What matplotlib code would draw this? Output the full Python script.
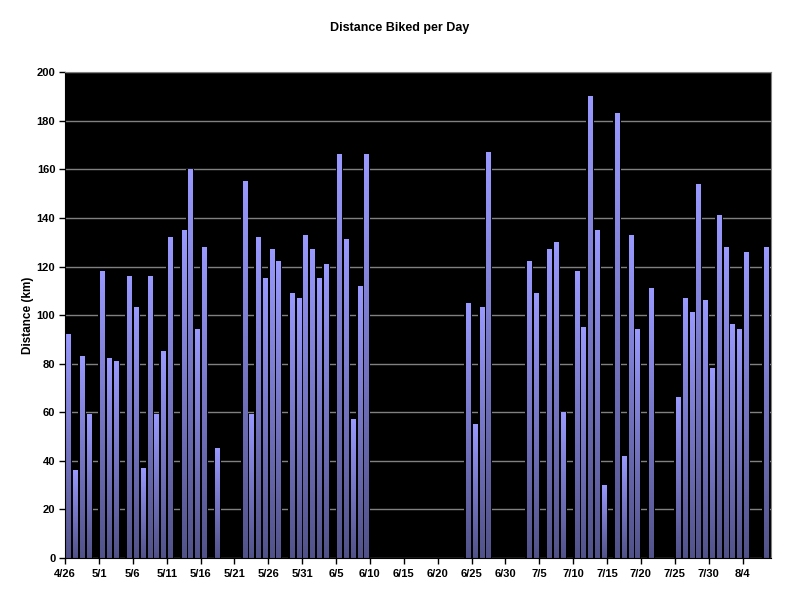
import numpy as np
import pandas as pd
import matplotlib
matplotlib.use("Agg")
import matplotlib.pyplot as plt
from matplotlib.colors import LinearSegmentedColormap

plt.rcParams['font.family'] = ['Liberation Sans', 'DejaVu Sans']

# days ridden and distance (km)
ride_dates = ["4/26", "4/27", "4/28", "4/29", "5/1", "5/2", "5/3", "5/5", "5/6", "5/7",
              "5/8", "5/9", "5/10", "5/11", "5/13", "5/14", "5/15", "5/16", "5/18", "5/22",
              "5/23", "5/24", "5/25", "5/26", "5/27", "5/29", "5/30", "5/31", "6/1", "6/2",
              "6/3", "6/5", "6/6", "6/7", "6/8", "6/9", "6/24", "6/25", "6/26", "6/27",
              "7/3", "7/4", "7/6", "7/7", "7/8", "7/10", "7/11", "7/12", "7/13", "7/14",
              "7/16", "7/17", "7/18", "7/19", "7/21", "7/25", "7/26", "7/27", "7/28", "7/29",
              "7/30", "7/31", "8/1", "8/2", "8/3", "8/4", "8/7"]
distance_km = [92, 36, 83, 59, 118, 82, 81, 116, 103, 37,
               116, 59, 85, 132, 135, 160, 94, 128, 45, 155,
               59, 132, 115, 127, 122, 109, 107, 133, 127, 115,
               121, 166, 131, 57, 112, 166, 105, 55, 103, 167,
               122, 109, 127, 130, 60, 118, 95, 190, 135, 30,
               183, 42, 133, 94, 111, 66, 107, 101, 154, 106,
               78, 141, 128, 96, 94, 126, 128]
tick_labels = ["4/26", "5/1", "5/6", "5/11", "5/16", "5/21", "5/26", "5/31", "6/5",
               "6/10", "6/15", "6/20", "6/25", "6/30", "7/5", "7/10", "7/15", "7/20",
               "7/25", "7/30", "8/4"]

start = pd.Timestamp("2005-04-26")
days = np.array([(pd.Timestamp("2005/" + d) - start).days for d in ride_dates])
end_day = (pd.Timestamp("2005-08-08") - start).days

fig = plt.figure(figsize=(8, 6), dpi=100)
ax = fig.add_axes([0.08125, 0.07, 0.8825, 0.8095])
ax.set_facecolor("black")

ax.yaxis.grid(True, color="#808080", linewidth=1, zorder=0)
ax.set_axisbelow(True)

# black halo behind each bar (breaks the gridlines like the original)
ax.bar(days + 0.5, distance_km, width=1.15, color="black", zorder=1)

cmap = LinearSegmentedColormap.from_list("bar", ["#52528a", "#9999ff"])
grad = np.linspace(1, 0, 256).reshape(-1, 1)
w = 0.6
for d, v in zip(days, distance_km):
    ax.imshow(grad, cmap=cmap, vmin=0, vmax=1, aspect="auto", zorder=2,
              extent=[d + 0.5 - w / 2, d + 0.5 + w / 2, 0, v], interpolation="bilinear")

ax.set_xlim(0, end_day + 0.2)
ax.set_ylim(0, 200)
ax.set_yticks(np.arange(0, 201, 20))
tick_days = [(pd.Timestamp("2005/" + t) - start).days for t in tick_labels]
ax.set_xticks(tick_days)
ax.set_xticklabels(tick_labels)

for lab in ax.get_xticklabels() + ax.get_yticklabels():
    lab.set_fontsize(8)
    lab.set_fontweight("bold")
ax.tick_params(axis="both", direction="out", length=4, color="black", width=1, pad=3)
ax.tick_params(axis="x", pad=4)

for side in ["top", "right"]:
    ax.spines[side].set_color("#808080")
for side in ["left", "bottom"]:
    ax.spines[side].set_color("black")

ax.set_ylabel("Distance (km)", fontsize=8.5, fontweight="bold", labelpad=2)
fig.text(0.5, 0.953, "Distance Biked per Day", ha="center", va="center",
         fontsize=9, fontweight="bold")

fig.savefig("out.png", dpi=100, facecolor="white")
